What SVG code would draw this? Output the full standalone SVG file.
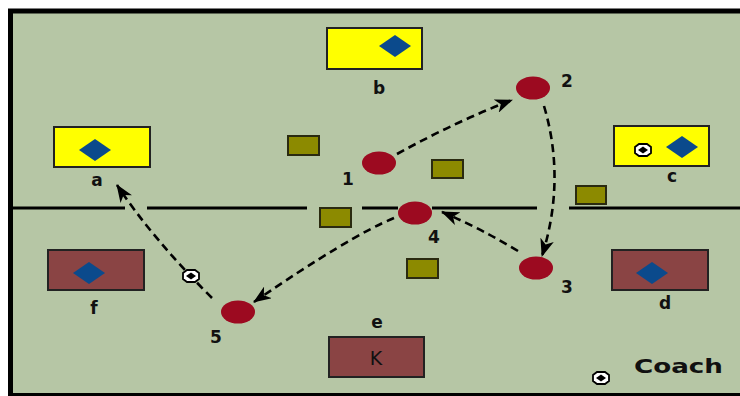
<svg xmlns="http://www.w3.org/2000/svg" width="740" height="396" viewBox="0 0 740 396">
  <style>
    .field { fill: #b6c6a5; }
    .border { fill: none; stroke: #000; stroke-width: 5; }
    .midline { stroke: #000; stroke-width: 3; fill: none; }
    .zone-y { fill: #ffff00; stroke: #222; stroke-width: 2; }
    .zone-r { fill: #8a4444; stroke: #222; stroke-width: 2; }
    .diamond { fill: #0b4a8c; }
    .cone { fill: #8c8a00; stroke: #2a2a10; stroke-width: 2; }
    .player { fill: #9c0a20; }
    .lbl { font-family: "DejaVu Sans", "Liberation Sans", sans-serif; font-weight: bold; font-size: 17px; fill: #111; text-anchor: middle; }
    .k { font-family: "DejaVu Sans", "Liberation Sans", sans-serif; font-size: 19px; fill: #111; text-anchor: middle; }
    .pass { fill: none; stroke: #000; stroke-width: 2.6; stroke-dasharray: 8 5; marker-end: url(#head); }
    .ball-o { fill: #fff; stroke: #000; stroke-width: 1.8; }
    .ball-i { fill: #000; }
  </style>
  <defs>
    <marker id="head" viewBox="0 0 18 14" refX="17" refY="7" markerWidth="18" markerHeight="14" markerUnits="userSpaceOnUse" orient="auto">
      <path d="M0,0 L18,7 L0,14 L5,7 z" fill="#000"/>
    </marker>
    <g id="ball">
      <path class="ball-o" d="M-4,-6 L4,-6 L8,-3 L8,3 L4,6 L-4,6 L-8,3 L-8,-3 z"/>
      <path class="ball-i" d="M0,-3.5 L5,0 L0,3.5 L-5,0 z"/>
    </g>
  </defs>

  <!-- background and field -->
  <rect x="0" y="0" width="740" height="396" fill="#ffffff"/>
  <rect class="field" x="10" y="10" width="730" height="386"/>
  <path class="border" d="M10.5,396 L10.5,11 L740,11"/>
  <line x1="10" y1="394.5" x2="740" y2="394.5" stroke="#000" stroke-width="3"/>

  <!-- halfway line with openings -->
  <g id="halfway">
    <line class="midline" x1="12" y1="208" x2="125" y2="208"/>
    <line class="midline" x1="147" y1="208" x2="307" y2="208"/>
    <line class="midline" x1="362" y1="208" x2="398" y2="208"/>
    <line class="midline" x1="432" y1="208" x2="537" y2="208"/>
    <line class="midline" x1="569" y1="208" x2="740" y2="208"/>
  </g>

  <!-- target zones -->
  <g id="zone-a">
    <rect class="zone-y" x="54" y="127" width="96" height="40"/>
    <path class="diamond" d="M95,139 L111,150 L95,161 L79,150 z"/>
    <text class="lbl" x="97" y="186">a</text>
  </g>
  <g id="zone-b">
    <rect class="zone-y" x="327" y="28" width="95" height="41"/>
    <path class="diamond" d="M395,35 L411,46 L395,57 L379,46 z"/>
    <text class="lbl" x="379" y="94">b</text>
  </g>
  <g id="zone-c">
    <rect class="zone-y" x="614" y="126" width="95" height="40"/>
    <path class="diamond" d="M682,136 L698,147 L682,158 L666,147 z"/>
    <use href="#ball" x="643" y="150"/>
    <text class="lbl" x="672" y="182">c</text>
  </g>
  <g id="zone-d">
    <rect class="zone-r" x="612" y="250" width="96" height="40"/>
    <path class="diamond" d="M652,262 L668,273 L652,284 L636,273 z"/>
    <text class="lbl" x="665" y="309">d</text>
  </g>
  <g id="zone-e">
    <rect class="zone-r" x="329" y="337" width="95" height="40"/>
    <text class="k" x="376" y="365">K</text>
    <text class="lbl" x="377" y="328">e</text>
  </g>
  <g id="zone-f">
    <rect class="zone-r" x="48" y="250" width="96" height="40"/>
    <path class="diamond" d="M89,262 L105,273 L89,284 L73,273 z"/>
    <text class="lbl" x="94" y="314">f</text>
  </g>

  <!-- cones -->
  <g id="cones">
    <rect class="cone" x="288" y="136" width="31" height="19"/>
    <rect class="cone" x="432" y="160" width="31" height="18"/>
    <rect class="cone" x="576" y="186" width="30" height="18"/>
    <rect class="cone" x="320" y="208" width="31" height="19"/>
    <rect class="cone" x="407" y="259" width="31" height="19"/>
  </g>

  <!-- passing lines -->
  <g id="passes">
    <path class="pass" d="M397,154 Q455,122 512,100"/>
    <path class="pass" d="M544,106 Q566,180 542,256"/>
    <path class="pass" d="M518,251 Q480,228 442,212"/>
    <path class="pass" d="M394,218 Q350,236 254,302"/>
    <path class="pass" d="M212,298 Q152,238 117,185"/>
  </g>

  <!-- players -->
  <g id="p1"><ellipse class="player" cx="379" cy="163" rx="17" ry="11.5"/><text class="lbl" x="348" y="185">1</text></g>
  <g id="p2"><ellipse class="player" cx="533" cy="88" rx="17" ry="11.5"/><text class="lbl" x="567" y="87">2</text></g>
  <g id="p3"><ellipse class="player" cx="536" cy="268" rx="17" ry="11.5"/><text class="lbl" x="567" y="293">3</text></g>
  <g id="p4"><ellipse class="player" cx="415" cy="213" rx="17" ry="11.5"/><text class="lbl" x="434" y="243">4</text></g>
  <g id="p5"><ellipse class="player" cx="238" cy="312" rx="17" ry="11.5"/><text class="lbl" x="216" y="343">5</text></g>

  <!-- loose ball on the pass path -->
  <g id="ball-pass"><use href="#ball" x="191" y="276"/></g>

  <!-- coach -->
  <g id="coach">
    <use href="#ball" x="601" y="378"/>
    <text class="lbl" x="634" y="373" style="text-anchor:start;font-size:19px" textLength="89" lengthAdjust="spacingAndGlyphs">Coach</text>
  </g>
</svg>
